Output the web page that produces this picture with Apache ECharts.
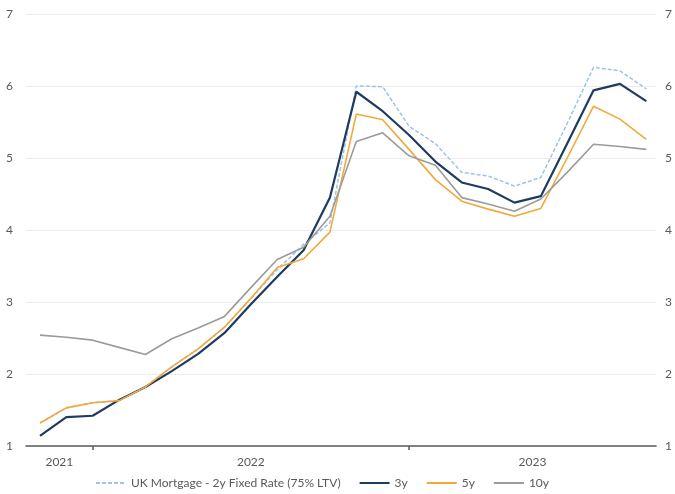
<!DOCTYPE html>
<html>
<head>
<meta charset="utf-8">
<script src="https://cdn.jsdelivr.net/npm/echarts@6/dist/echarts.min.js"></script>
<style>
  html, body { margin: 0; padding: 0; background: #fff; }
  #chart { width: 675px; height: 494px; }
</style>
</head>
<body>
<div id="chart"></div>
<script>
// Monthly observations, Nov 2021 - Oct 2023
const months = [
  '2021-11', '2021-12',
  '2022-01', '2022-02', '2022-03', '2022-04', '2022-05', '2022-06',
  '2022-07', '2022-08', '2022-09', '2022-10', '2022-11', '2022-12',
  '2023-01', '2023-02', '2023-03', '2023-04', '2023-05', '2023-06',
  '2023-07', '2023-08', '2023-09', '2023-10'
];

const mortgage2y = [1.32, 1.53, 1.60, 1.63, 1.82, 2.10, 2.35, 2.65, 3.05, 3.45, 3.80, 4.10,
                    6.00, 5.99, 5.44, 5.20, 4.80, 4.75, 4.61, 4.73, 5.48, 6.26, 6.21, 5.96];
const swap3y     = [1.14, 1.40, 1.42, 1.64, 1.82, 2.04, 2.28, 2.57, 2.97, 3.35, 3.72, 4.45,
                    5.92, 5.65, 5.32, 4.95, 4.66, 4.57, 4.38, 4.47, 5.20, 5.94, 6.03, 5.79];
const swap5y     = [1.32, 1.53, 1.60, 1.63, 1.82, 2.10, 2.35, 2.65, 3.05, 3.48, 3.60, 3.97,
                    5.61, 5.53, 5.12, 4.70, 4.40, 4.29, 4.19, 4.30, 5.00, 5.72, 5.54, 5.26];
const swap10y    = [2.54, 2.51, 2.47, 2.37, 2.27, 2.49, 2.64, 2.80, 3.20, 3.59, 3.76, 4.19,
                    5.23, 5.35, 5.03, 4.90, 4.45, 4.36, 4.26, 4.43, 4.80, 5.19, 5.16, 5.12];

const seriesNames = ['UK Mortgage - 2y Fixed Rate (75% LTV)', '3y', '5y', '10y'];

// x runs over month index; the axis extends a little past the first and last month
const xMin = -0.53;
const xMax = months.length - 1 + 0.37;

// year boundaries fall on each January; year labels sit midway through each span
const years = [];
const yearStarts = [];
months.forEach((m, i) => {
  const y = m.slice(0, 4);
  if (!years.includes(y)) { years.push(y); yearStarts.push(i); }
});
const boundaries = yearStarts.slice(1);
const edges = [xMin].concat(boundaries, [xMax]);
const yearLabelPos = years.map((y, i) => (edges[i] + edges[i + 1]) / 2);

function toPoints(arr) { return arr.map((v, i) => [i, v]); }

const FONT = 'Lato, "Open Sans", sans-serif';
const TEXT = '#595959';

const chart = echarts.init(document.getElementById('chart'), null, { renderer: 'canvas' });
chart.setOption({
  animation: false,
  backgroundColor: '#ffffff',
  grid: { left: 26, right: 18, top: 14, bottom: 48, containLabel: false },
  xAxis: {
    type: 'value',
    min: xMin,
    max: xMax,
    axisLine: { show: true, lineStyle: { color: '#595959', width: 1.5 } },
    axisTick: {
      show: true,
      customValues: boundaries,
      length: 4,
      inside: false,
      lineStyle: { color: '#595959', width: 1.5 }
    },
    axisLabel: {
      customValues: yearLabelPos,
      formatter: (v) => {
        const k = yearLabelPos.findIndex(p => Math.abs(p - v) < 1e-6);
        return k >= 0 ? years[k] : '';
      },
      color: TEXT,
      fontFamily: FONT,
      fontSize: 12,
      margin: 10
    },
    splitLine: { show: false }
  },
  yAxis: [
    {
      type: 'value', min: 1, max: 7, interval: 1, position: 'left',
      axisLine: { show: false }, axisTick: { show: false },
      axisLabel: { color: TEXT, fontFamily: FONT, fontSize: 12, margin: 13 },
      splitLine: { show: true, lineStyle: { color: '#ececec', width: 1 } }
    },
    {
      type: 'value', min: 1, max: 7, interval: 1, position: 'right',
      axisLine: { show: false }, axisTick: { show: false },
      axisLabel: { color: TEXT, fontFamily: FONT, fontSize: 12, margin: 9 },
      splitLine: { show: false }
    }
  ],
  legend: {
    bottom: 0,
    left: 90,
    itemWidth: 30,
    itemHeight: 4,
    itemGap: 18,
    itemStyle: { opacity: 0 },
    textStyle: { color: TEXT, fontFamily: FONT, fontSize: 12 },
    data: seriesNames
  },
  series: [
    {
      name: seriesNames[0], type: 'line', data: toPoints(mortgage2y),
      symbol: 'none', z: 1,
      lineStyle: { color: '#9dc3e6', width: 1.5, type: [4, 2] },
      itemStyle: { color: '#9dc3e6' }
    },
    {
      name: seriesNames[1], type: 'line', data: toPoints(swap3y),
      symbol: 'none', z: 2,
      lineStyle: { color: '#1f3b60', width: 2.2 },
      itemStyle: { color: '#1f3b60' }
    },
    {
      name: seriesNames[2], type: 'line', data: toPoints(swap5y),
      symbol: 'none', z: 3,
      lineStyle: { color: '#f2a93b', width: 1.6 },
      itemStyle: { color: '#f2a93b' }
    },
    {
      name: seriesNames[3], type: 'line', data: toPoints(swap10y),
      symbol: 'none', z: 4,
      lineStyle: { color: '#9b9b9b', width: 1.6 },
      itemStyle: { color: '#9b9b9b' }
    }
  ]
});
</script>
</body>
</html>
